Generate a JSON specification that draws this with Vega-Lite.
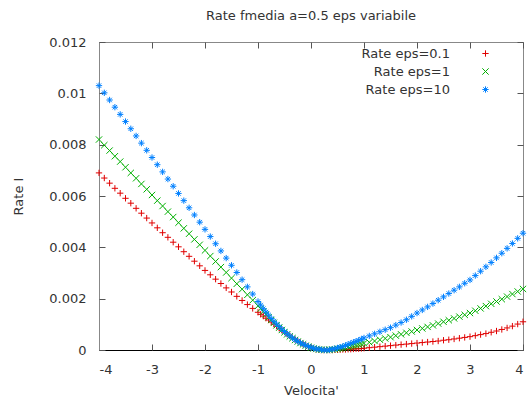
{
 "$schema": "https://vega.github.io/schema/vega-lite/v6.json",
 "width": 424, "height": 308,
 "autosize": {"type": "none"},
 "padding": {"left": 99, "top": 42, "right": 6, "bottom": 49},
 "background": "white",
 "title": {"text": "Rate fmedia a=0.5 eps variabile", "fontSize": 13, "fontWeight": "normal", "color": "#333", "font": "DejaVu Sans", "offset": 13, "anchor": "middle", "frame": "group"},
 "config": {
  "view": {"stroke": "#888", "strokeWidth": 1},
  "font": "DejaVu Sans",
  "axis": {"grid": false, "labelFontSize": 13, "labelColor": "#333", "titleFontSize": 13, "titleFontWeight": "normal", "titleColor": "#333", "tickColor": "#555", "domainColor": "#888", "labelFont": "DejaVu Sans", "titleFont": "DejaVu Sans"},
  "legend": {"title": null, "orient": "none", "legendX": 380, "legendY": 5, "labelAlign": "right", "labelOffset": -42, "labelFontSize": 13, "labelColor": "#333", "rowPadding": 4, "padding": 0, "symbolSize": 40, "symbolStrokeWidth": 1}
 },
 "data": {"values": [
  {"x": -4.0, "e01": 0.0069, "e1": 0.0082, "e10": 0.0103},
  {"x": -3.9, "e01": 0.0067, "e1": 0.00798, "e10": 0.01002},
  {"x": -3.8, "e01": 0.0065, "e1": 0.00777, "e10": 0.00974},
  {"x": -3.7, "e01": 0.0063, "e1": 0.00755, "e10": 0.00946},
  {"x": -3.6, "e01": 0.00611, "e1": 0.00734, "e10": 0.00918},
  {"x": -3.5, "e01": 0.00591, "e1": 0.00712, "e10": 0.0089},
  {"x": -3.4, "e01": 0.00572, "e1": 0.0069, "e10": 0.00862},
  {"x": -3.3, "e01": 0.00552, "e1": 0.00669, "e10": 0.00834},
  {"x": -3.2, "e01": 0.00533, "e1": 0.00647, "e10": 0.00806},
  {"x": -3.1, "e01": 0.00514, "e1": 0.00626, "e10": 0.00778},
  {"x": -3.0, "e01": 0.00495, "e1": 0.00604, "e10": 0.0075},
  {"x": -2.9, "e01": 0.00476, "e1": 0.00582, "e10": 0.00722},
  {"x": -2.8, "e01": 0.00457, "e1": 0.00561, "e10": 0.00694},
  {"x": -2.7, "e01": 0.00439, "e1": 0.00539, "e10": 0.00666},
  {"x": -2.6, "e01": 0.0042, "e1": 0.00518, "e10": 0.00638},
  {"x": -2.5, "e01": 0.00402, "e1": 0.00496, "e10": 0.0061},
  {"x": -2.4, "e01": 0.00383, "e1": 0.00474, "e10": 0.00582},
  {"x": -2.3, "e01": 0.00365, "e1": 0.00453, "e10": 0.00554},
  {"x": -2.2, "e01": 0.00346, "e1": 0.00431, "e10": 0.00526},
  {"x": -2.1, "e01": 0.00328, "e1": 0.0041, "e10": 0.00498},
  {"x": -2.0, "e01": 0.0031, "e1": 0.00388, "e10": 0.0047},
  {"x": -1.9, "e01": 0.00293, "e1": 0.00366, "e10": 0.00442},
  {"x": -1.8, "e01": 0.00276, "e1": 0.00345, "e10": 0.00414},
  {"x": -1.7, "e01": 0.00259, "e1": 0.00323, "e10": 0.00386},
  {"x": -1.6, "e01": 0.00242, "e1": 0.00302, "e10": 0.00358},
  {"x": -1.5, "e01": 0.00226, "e1": 0.0028, "e10": 0.0033},
  {"x": -1.4, "e01": 0.00209, "e1": 0.00258, "e10": 0.00302},
  {"x": -1.3, "e01": 0.00193, "e1": 0.00237, "e10": 0.00274},
  {"x": -1.2, "e01": 0.00177, "e1": 0.00215, "e10": 0.00246},
  {"x": -1.1, "e01": 0.00162, "e1": 0.00194, "e10": 0.00218},
  {"x": -1.0, "e01": 0.00147, "e1": 0.00172, "e10": 0.00189},
  {"x": -0.95, "e01": 0.00139, "e1": 0.00161, "e10": 0.00175},
  {"x": -0.9, "e01": 0.00132, "e1": 0.0015, "e10": 0.00161},
  {"x": -0.85, "e01": 0.00124, "e1": 0.00139, "e10": 0.00148},
  {"x": -0.8, "e01": 0.00117, "e1": 0.00128, "e10": 0.00136},
  {"x": -0.75, "e01": 0.00109, "e1": 0.00117, "e10": 0.00123},
  {"x": -0.7, "e01": 0.00101, "e1": 0.00106, "e10": 0.00112},
  {"x": -0.65, "e01": 0.00093, "e1": 0.00096, "e10": 0.00101},
  {"x": -0.6, "e01": 0.00085, "e1": 0.00087, "e10": 0.00091},
  {"x": -0.55, "e01": 0.00077, "e1": 0.00078, "e10": 0.00081},
  {"x": -0.5, "e01": 0.0007, "e1": 0.00069, "e10": 0.00072},
  {"x": -0.45, "e01": 0.00062, "e1": 0.00061, "e10": 0.00063},
  {"x": -0.4, "e01": 0.00055, "e1": 0.00053, "e10": 0.00055},
  {"x": -0.35, "e01": 0.00048, "e1": 0.00046, "e10": 0.00047},
  {"x": -0.3, "e01": 0.00041, "e1": 0.00039, "e10": 0.0004},
  {"x": -0.25, "e01": 0.00035, "e1": 0.00033, "e10": 0.00034},
  {"x": -0.2, "e01": 0.00029, "e1": 0.00027, "e10": 0.00028},
  {"x": -0.15, "e01": 0.00023, "e1": 0.00022, "e10": 0.00023},
  {"x": -0.1, "e01": 0.00018, "e1": 0.00017, "e10": 0.00018},
  {"x": -0.05, "e01": 0.00013, "e1": 0.00013, "e10": 0.00014},
  {"x": 0.0, "e01": 0.00009, "e1": 0.00009, "e10": 0.0001},
  {"x": 0.05, "e01": 0.00006, "e1": 0.00006, "e10": 0.00007},
  {"x": 0.1, "e01": 0.00003, "e1": 0.00004, "e10": 0.00004},
  {"x": 0.15, "e01": 0.00001, "e1": 0.00002, "e10": 0.00003},
  {"x": 0.2, "e01": 0, "e1": 0.00001, "e10": 0.00001},
  {"x": 0.25, "e01": 0, "e1": 0, "e10": 0},
  {"x": 0.3, "e01": 0, "e1": 0, "e10": 0},
  {"x": 0.35, "e01": 0, "e1": 0.00001, "e10": 0.00001},
  {"x": 0.4, "e01": 0, "e1": 0.00002, "e10": 0.00003},
  {"x": 0.45, "e01": 0.00001, "e1": 0.00003, "e10": 0.00005},
  {"x": 0.5, "e01": 0.00001, "e1": 0.00005, "e10": 0.00008},
  {"x": 0.55, "e01": 0.00001, "e1": 0.00006, "e10": 0.00011},
  {"x": 0.6, "e01": 0.00002, "e1": 0.00008, "e10": 0.00014},
  {"x": 0.65, "e01": 0.00002, "e1": 0.0001, "e10": 0.00018},
  {"x": 0.7, "e01": 0.00003, "e1": 0.00012, "e10": 0.00022},
  {"x": 0.75, "e01": 0.00003, "e1": 0.00014, "e10": 0.00026},
  {"x": 0.8, "e01": 0.00004, "e1": 0.00016, "e10": 0.0003},
  {"x": 0.85, "e01": 0.00005, "e1": 0.00018, "e10": 0.00034},
  {"x": 0.9, "e01": 0.00005, "e1": 0.00021, "e10": 0.00038},
  {"x": 0.95, "e01": 0.00006, "e1": 0.00023, "e10": 0.00042},
  {"x": 1.0, "e01": 0.00007, "e1": 0.00026, "e10": 0.00047},
  {"x": 1.1, "e01": 0.00009, "e1": 0.0003, "e10": 0.00055},
  {"x": 1.2, "e01": 0.00011, "e1": 0.00035, "e10": 0.00063},
  {"x": 1.3, "e01": 0.00013, "e1": 0.0004, "e10": 0.00071},
  {"x": 1.4, "e01": 0.00015, "e1": 0.00045, "e10": 0.00079},
  {"x": 1.5, "e01": 0.00017, "e1": 0.0005, "e10": 0.00087},
  {"x": 1.6, "e01": 0.00019, "e1": 0.00056, "e10": 0.00097},
  {"x": 1.7, "e01": 0.00021, "e1": 0.00061, "e10": 0.00107},
  {"x": 1.8, "e01": 0.00023, "e1": 0.00067, "e10": 0.00118},
  {"x": 1.9, "e01": 0.00025, "e1": 0.00072, "e10": 0.00131},
  {"x": 2.0, "e01": 0.00027, "e1": 0.00078, "e10": 0.00144},
  {"x": 2.1, "e01": 0.00029, "e1": 0.00084, "e10": 0.00156},
  {"x": 2.2, "e01": 0.00031, "e1": 0.0009, "e10": 0.00168},
  {"x": 2.3, "e01": 0.00033, "e1": 0.00096, "e10": 0.00181},
  {"x": 2.4, "e01": 0.00035, "e1": 0.00103, "e10": 0.00194},
  {"x": 2.5, "e01": 0.00038, "e1": 0.0011, "e10": 0.00207},
  {"x": 2.6, "e01": 0.0004, "e1": 0.00116, "e10": 0.0022},
  {"x": 2.7, "e01": 0.00043, "e1": 0.00123, "e10": 0.00233},
  {"x": 2.8, "e01": 0.00046, "e1": 0.0013, "e10": 0.00246},
  {"x": 2.9, "e01": 0.00049, "e1": 0.00137, "e10": 0.0026},
  {"x": 3.0, "e01": 0.00052, "e1": 0.00144, "e10": 0.00273},
  {"x": 3.1, "e01": 0.00056, "e1": 0.00153, "e10": 0.0029},
  {"x": 3.2, "e01": 0.0006, "e1": 0.00162, "e10": 0.00307},
  {"x": 3.3, "e01": 0.00064, "e1": 0.00171, "e10": 0.00324},
  {"x": 3.4, "e01": 0.00069, "e1": 0.0018, "e10": 0.00341},
  {"x": 3.5, "e01": 0.00074, "e1": 0.00189, "e10": 0.00359},
  {"x": 3.6, "e01": 0.0008, "e1": 0.00198, "e10": 0.00377},
  {"x": 3.7, "e01": 0.00086, "e1": 0.00208, "e10": 0.00396},
  {"x": 3.8, "e01": 0.00093, "e1": 0.00218, "e10": 0.00415},
  {"x": 3.9, "e01": 0.00101, "e1": 0.00228, "e10": 0.00435},
  {"x": 4.0, "e01": 0.0011, "e1": 0.00238, "e10": 0.00455}
 ]},
 "transform": [{"fold": ["e01", "e1", "e10"], "as": ["series", "value"]}],
 "encoding": {
  "color": {"field": "series", "type": "nominal", "scale": {"domain": ["e01", "e1", "e10"], "range": ["#e00000", "#00b000", "#0080ff"]},
   "legend": {"labelExpr": "datum.label == 'e01' ? 'Rate eps=0.1' : datum.label == 'e1' ? 'Rate eps=1' : 'Rate eps=10'"}},
  "shape": {"field": "series", "type": "nominal", "scale": {"domain": ["e01", "e1", "e10"], "range": ["M-1,0L1,0M0,-1L0,1", "M-1,-1L1,1M-1,1L1,-1", "M-1,0L1,0M0,-1L0,1M-0.7,-0.7L0.7,0.7M-0.7,0.7L0.7,-0.7"]},
   "legend": {"labelExpr": "datum.label == 'e01' ? 'Rate eps=0.1' : datum.label == 'e1' ? 'Rate eps=1' : 'Rate eps=10'"}}
 },
 "layer": [
  {
   "transform": [{"filter": "datum.series == 'e01'"}],
   "mark": {"type": "point", "filled": false, "strokeWidth": 1, "size": 40, "opacity": 1},
   "encoding": {
    "x": {"field": "x", "type": "quantitative", "scale": {"domain": [-4, 4], "nice": false}, "axis": {"orient": "bottom", "values": [-4, -3, -2, -1, 0, 1, 2, 3, 4], "labelExpr": "'' + datum.value", "title": "Velocita'", "domainColor": "#000", "ticks": false, "labelPadding": 13, "titlePadding": 8}},
    "y": {"field": "value", "type": "quantitative", "scale": {"domain": [0, 0.012], "nice": false, "zero": false}, "axis": {"orient": "left", "values": [0, 0.002, 0.004, 0.006, 0.008, 0.01, 0.012], "format": "~g", "title": "Rate I", "ticks": false, "labelPadding": 13, "titlePadding": 23}}
   }
  },
  {
   "transform": [{"filter": "datum.series == 'e1'"}],
   "mark": {"type": "point", "filled": false, "strokeWidth": 1, "size": 40, "opacity": 1},
   "encoding": {
    "x": {"field": "x", "type": "quantitative", "axis": null},
    "y": {"field": "value", "type": "quantitative", "axis": null}
   }
  },
  {
   "transform": [{"filter": "datum.series == 'e10'"}],
   "mark": {"type": "point", "filled": false, "strokeWidth": 1, "size": 40, "opacity": 1},
   "encoding": {
    "x": {"field": "x", "type": "quantitative", "axis": null},
    "y": {"field": "value", "type": "quantitative", "axis": null}
   }
  },
  {
   "mark": {"type": "rule", "opacity": 0},
   "encoding": {
    "x": {"field": "x", "type": "quantitative", "axis": {"orient": "top", "labels": false, "domain": false, "title": null, "tickSize": -6, "values": [-4, -3, -2, -1, 0, 1, 2, 3, 4]}},
    "y": {"field": "value", "type": "quantitative", "axis": {"orient": "right", "labels": false, "domain": false, "title": null, "tickSize": -6, "values": [0, 0.002, 0.004, 0.006, 0.008, 0.01, 0.012]}},
    "color": {"value": "white"},
    "shape": null
   }
  },
  {
   "mark": {"type": "rule", "opacity": 0},
   "encoding": {
    "x": {"field": "x", "type": "quantitative", "axis": {"orient": "bottom", "labels": false, "domain": false, "title": null, "tickSize": -6, "values": [-4, -3, -2, -1, 0, 1, 2, 3, 4]}},
    "y": {"field": "value", "type": "quantitative", "axis": {"orient": "left", "labels": false, "domain": false, "title": null, "tickSize": -6, "values": [0, 0.002, 0.004, 0.006, 0.008, 0.01, 0.012]}},
    "color": {"value": "white"},
    "shape": null
   }
  }
 ],
 "resolve": {"axis": {"x": "independent", "y": "independent"}}
}
